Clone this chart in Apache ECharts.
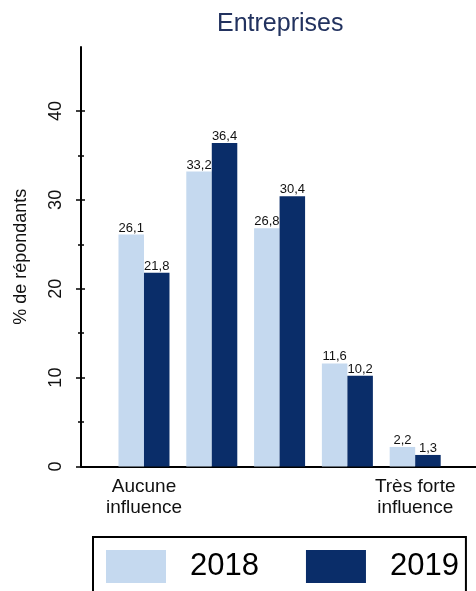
<!DOCTYPE html>
<html>
<head>
<meta charset="utf-8">
<script src="https://cdn.jsdelivr.net/npm/echarts@6/dist/echarts.min.js"></script>
<style>html,body{margin:0;padding:0;background:#fff}#c{width:476px;height:591px}</style>
</head>
<body>
<div id="c"></div>
<script>
const categories = ['Aucune\ninfluence', '', '', '', 'Très forte\ninfluence'];
const seriesNames = ['2018', '2019'];
const values2018 = [26.1, 33.2, 26.8, 11.6, 2.2];
const values2019 = [21.8, 36.4, 30.4, 10.2, 1.3];
const majorTicks = [0, 10, 20, 30, 40];
const minorTicks = [5, 15, 25, 35];
const colors = ['#c5d9ef', '#0a2d69'];

const chart = echarts.init(document.getElementById('c'), null, {renderer: 'canvas'});
const fmt = v => String(v).replace('.', ',');
const yBase = {
  type: 'value', min: 0, max: 47.2, gridIndex: 0, position: 'left',
  splitLine: {show: false}, axisLabel: {show: false}, axisLine: {show: false, onZero: false}
};
function toPairs(arr){ return arr.map((v,i)=>[i,v]); }
const labelStyle = {show: true, position: 'top', distance: 0, fontSize: 13, color: '#111', fontFamily: 'Liberation Sans, Arial', formatter: p => fmt(p.value[1])};
chart.setOption({
  animation: false,
  title: {text: 'Entreprises', left: 212, top: 7, textStyle: {fontSize: 25, fontWeight: 'normal', color: '#22325f', fontFamily: 'Liberation Sans, Arial'}},
  grid: {left: 81, right: 0, top: 47, bottom: 124.5, containLabel: false},
  legend: {
    data: seriesNames, left: 93, top: 537, orient: 'horizontal', icon: 'rect',
    itemWidth: 60, itemHeight: 33, itemGap: 47,
    borderColor: '#000', borderWidth: 2, padding: [13, 7, 13, 13],
    textStyle: {fontSize: 31, color: '#000', fontFamily: 'Liberation Sans, Arial', padding: [0, 0, 0, 19]}
  },
  xAxis: {
    type: 'value', min: -0.929, max: 4.897,
    splitLine: {show: false}, axisTick: {show: false},
    axisLine: {show: true, onZero: false, lineStyle: {color: '#000', width: 2}},
    axisLabel: {customValues: [0, 4], formatter: v => categories[Math.round(v)], fontSize: 19, lineHeight: 21, color: '#111', margin: 10, fontFamily: 'Liberation Sans, Arial'}
  },
  yAxis: [
    Object.assign({}, yBase, {
      axisLine: {show: true, onZero: false, lineStyle: {color: '#000', width: 2}},
      axisTick: {show: true, customValues: majorTicks, length: 5, lineStyle: {color: '#000', width: 1.5}},
      axisLabel: {show: true, customValues: majorTicks, rotate: 90, fontSize: 18, color: '#111', margin: 16, fontFamily: 'Liberation Sans, Arial'},
      name: '% de répondants', nameLocation: 'middle', nameGap: 51,
      nameTextStyle: {fontSize: 18, color: '#111', fontFamily: 'Liberation Sans, Arial'}
    }),
    Object.assign({}, yBase, {axisTick: {show: true, inside: true, customValues: majorTicks, length: 4, lineStyle: {color: '#000', width: 1.5}}}),
    Object.assign({}, yBase, {axisTick: {show: true, customValues: minorTicks, length: 3, lineStyle: {color: '#000', width: 1.5}}}),
    Object.assign({}, yBase, {axisTick: {show: true, inside: true, customValues: minorTicks, length: 3, lineStyle: {color: '#000', width: 1.5}}})
  ],
  series: [
    {name: seriesNames[0], type: 'bar', data: toPairs(values2018), barWidth: 25.5, barGap: '0%', itemStyle: {color: colors[0]}, label: labelStyle},
    {name: seriesNames[1], type: 'bar', data: toPairs(values2019), barWidth: 25.5, barGap: '0%', itemStyle: {color: colors[1]}, label: labelStyle}
  ]
});
</script>
</body>
</html>
